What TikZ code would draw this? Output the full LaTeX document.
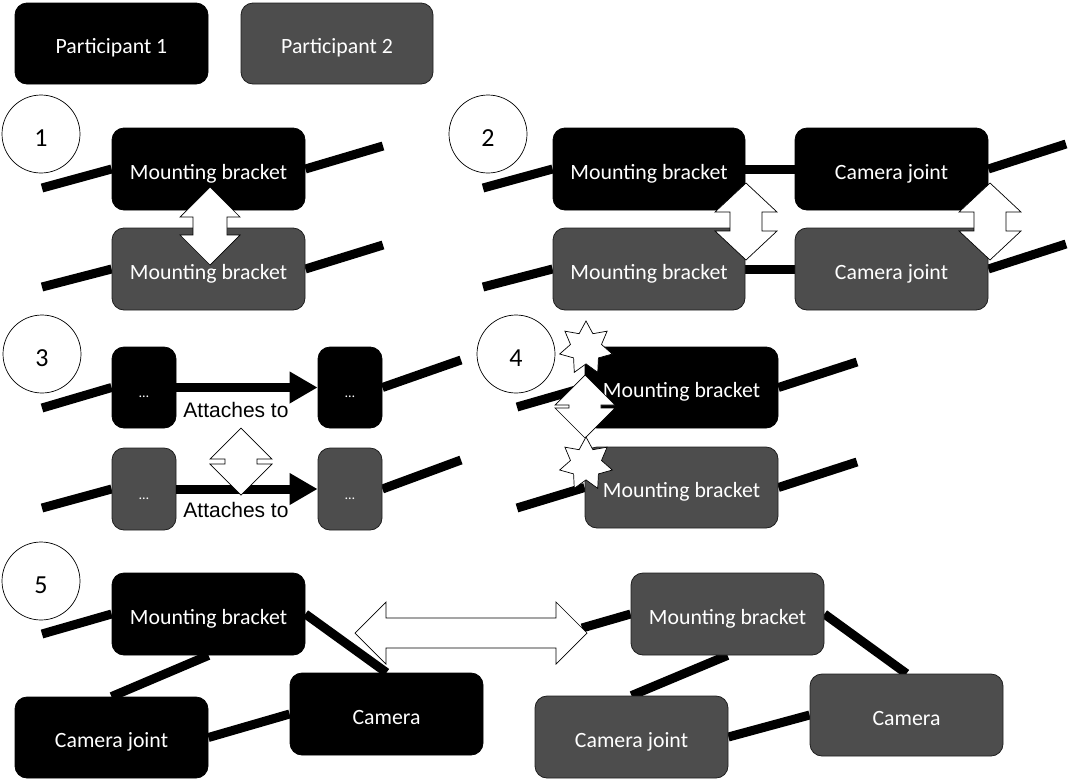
\documentclass[tikz,border=0pt]{standalone}
\usepackage{fontspec}
\setmainfont{Carlito}
\newfontfamily\arialf{Liberation Sans}
\usetikzlibrary{shapes.geometric,arrows.meta,backgrounds}
\definecolor{gfill}{RGB}{77,77,77}
\definecolor{gdraw}{RGB}{30,30,30}
\newcommand\boxfont{\fontsize{21.8}{26}\selectfont}
% vertical double arrow: x, ytop, ybot, headlen, halfhead, halfshaft
\newcommand\DArrowV[6]{%
 \draw[dbl] (#1,#2) -- (#1+#5,#2+#4) -- (#1+#6,#2+#4) -- (#1+#6,#3-#4) -- (#1+#5,#3-#4) -- (#1,#3)
  -- (#1-#5,#3-#4) -- (#1-#6,#3-#4) -- (#1-#6,#2+#4) -- (#1-#5,#2+#4) -- cycle;}
% horizontal double arrow: y, xleft, xright, headlen, halfhead, halfshaft
\newcommand\DArrowH[6]{%
 \draw[dbl] (#2,#1) -- (#2+#4,#1-#5) -- (#2+#4,#1-#6) -- (#3-#4,#1-#6) -- (#3-#4,#1-#5) -- (#3,#1)
  -- (#3-#4,#1+#5) -- (#3-#4,#1+#6) -- (#2+#4,#1+#6) -- (#2+#4,#1+#5) -- cycle;}
\tikzset{
 pbox/.style={rectangle, rounded corners=12pt, fill=black, draw=black, line width=0.8pt,
   text=white, font=\boxfont, inner sep=0pt, text height=20pt, text depth=0pt},
 gbox/.style={pbox, fill=gfill, draw=gdraw},
 sz/.style 2 args={minimum width=#1pt, minimum height=#2pt},
 link/.style={line width=9pt},
 dbl/.style={draw=black, fill=white, line width=0.7pt, line join=miter},
 numc/.style={circle, draw=black, fill=white, line width=0.7pt, minimum size=78pt,
   inner sep=0pt, font=\fontsize{26}{30}\selectfont, text height=24pt, text depth=0pt},
 starn/.style={star, star points=7, star point ratio=1.7, minimum size=54pt, draw=black,
   fill=white, line width=0.7pt, inner sep=0pt},
 att/.style={font=\arialf\fontsize{21}{25}\selectfont, text=black, inner sep=0pt},
 dotf/.style={font=\fontsize{14}{17}\selectfont},
 attarrow/.style={line width=9pt, -{Triangle[length=28pt,width=30pt]}}
}
\begin{document}
\begin{tikzpicture}[x=1pt,y=-1pt]
\useasboundingbox (0,0) rectangle (1069,780);
% legend
\node[pbox, sz={193}{81}] (p1) at (111.5,43.5) {Participant 1};
\node[gbox, sz={192}{81}] (p2) at (337,43.5) {Participant 2};

% ---------- panel 1
\node[pbox, sz={193}{82}] (b1) at (208.5,169) {Mounting bracket};
\node[gbox, sz={193}{82}] (g1) at (208.5,269) {Mounting bracket};
\coordinate (b1l) at (42,188); \coordinate (b1r) at (383,146);
\coordinate (g1l) at (42,287); \coordinate (g1r) at (383,245);

% ---------- panel 2
\node[pbox, sz={192}{82}] (m2) at (649,169) {Mounting bracket};
\node[pbox, sz={193}{82}] (c2) at (891.5,169) {Camera joint};
\node[gbox, sz={192}{82}] (gm2) at (649,269) {Mounting bracket};
\node[gbox, sz={193}{82}] (gc2) at (891.5,269) {Camera joint};
\coordinate (m2l) at (483,188); \coordinate (c2r) at (1066,144);
\coordinate (gm2l) at (483,287); \coordinate (gc2r) at (1066,244);

% ---------- panel 3
\node[pbox, sz={64}{81}, dotf] (a3) at (144,387.5) {\dots};
\node[pbox, sz={64}{81}, dotf] (b3) at (350,387.5) {\dots};
\node[gbox, sz={64}{82}, dotf] (ga3) at (144,489) {\dots};
\node[gbox, sz={64}{82}, dotf] (gb3) at (350,489) {\dots};
\coordinate (a3l) at (42,408); \coordinate (b3r) at (461,360);
\coordinate (ga3l) at (42,508); \coordinate (gb3r) at (461,460);
\node[att] (t3a) at (236,410) {Attaches to};
\node[att] (t3b) at (236,510) {Attaches to};

% ---------- panel 4
\node[pbox, sz={193}{81}] (m4) at (681.5,387.5) {Mounting bracket};
\node[gbox, sz={193}{81}] (gm4) at (681.5,487.5) {Mounting bracket};
\coordinate (m4l) at (517,407); \coordinate (m4r) at (857,362);
\coordinate (gm4l) at (517,508); \coordinate (gm4r) at (857,462);

% ---------- panel 5
\node[pbox, sz={193}{82}] (m5) at (208.5,614) {Mounting bracket};
\node[pbox, sz={193}{81}] (cj5) at (111.5,737.5) {Camera joint};
\node[pbox, sz={193}{82}] (c5) at (386.5,714) {Camera};
\node[gbox, sz={193}{82}] (gm5) at (727.5,614) {Mounting bracket};
\node[gbox, sz={193}{82}] (gcj5) at (631.5,737) {Camera joint};
\node[gbox, sz={193}{82}] (gc5) at (906.5,715) {Camera};
\coordinate (m5l) at (42,634); \coordinate (gm5l) at (582,628);

% ---------- connecting lines (behind boxes)
\begin{scope}[on background layer]
 \draw[link] (b1l) -- (b1.west);  \draw[link] (b1.east) -- (b1r);
 \draw[link] (g1l) -- (g1.west);  \draw[link] (g1.east) -- (g1r);
 \draw[link] (m2l) -- (m2.west);  \draw[link] (m2.east) -- (c2.west);  \draw[link] (c2.east) -- (c2r);
 \draw[link] (gm2l) -- (gm2.west); \draw[link] (gm2.east) -- (gc2.west); \draw[link] (gc2.east) -- (gc2r);
 \draw[link] (a3l) -- (a3.west);  \draw[link] (b3.east) -- (b3r);
 \draw[link] (ga3l) -- (ga3.west); \draw[link] (gb3.east) -- (gb3r);
 \draw[link] (m4l) -- (m4.west);  \draw[link] (m4.east) -- (m4r);
 \draw[link] (gm4l) -- (gm4.west); \draw[link] (gm4.east) -- (gm4r);
 \draw[link] (m5l) -- (m5.west);
 \draw[link] (m5.east) -- (c5.north);
 \draw[link] (m5.south) -- (cj5.north);
 \draw[link] (cj5.east) -- (c5.west);
 \draw[link] (gm5l) -- (gm5.west);
 \draw[link] (gm5.east) -- (gc5.north);
 \draw[link] (gm5.south) -- (gcj5.north);
 \draw[link] (gcj5.east) -- (gc5.west);
\end{scope}

% attaches-to arrows
\draw[attarrow] (a3.east) -- (b3.west);
\draw[attarrow] (ga3.east) -- (gb3.west);

% double arrows
\DArrowV{210}{187}{265}{30}{30}{17}
\DArrowV{746}{183}{260}{29}{31}{16}
\DArrowV{990}{183}{260}{29}{31}{16}
\DArrowV{241}{428}{495}{31}{31}{16}
\DArrowV{585}{375}{438}{30}{30}{16}
\DArrowH{633}{355}{587}{31}{31}{15}

% stars
\node[starn] (s1) at (586,348) {};
\node[starn] (s2) at (586,464) {};

% numbered circles
\node[numc] (n1) at (41,134) {1};
\node[numc] (n2) at (488,134) {2};
\node[numc] (n3) at (42,354) {3};
\node[numc] (n4) at (516,354) {4};
\node[numc] (n5) at (41,581) {5};
\end{tikzpicture}
\end{document}
